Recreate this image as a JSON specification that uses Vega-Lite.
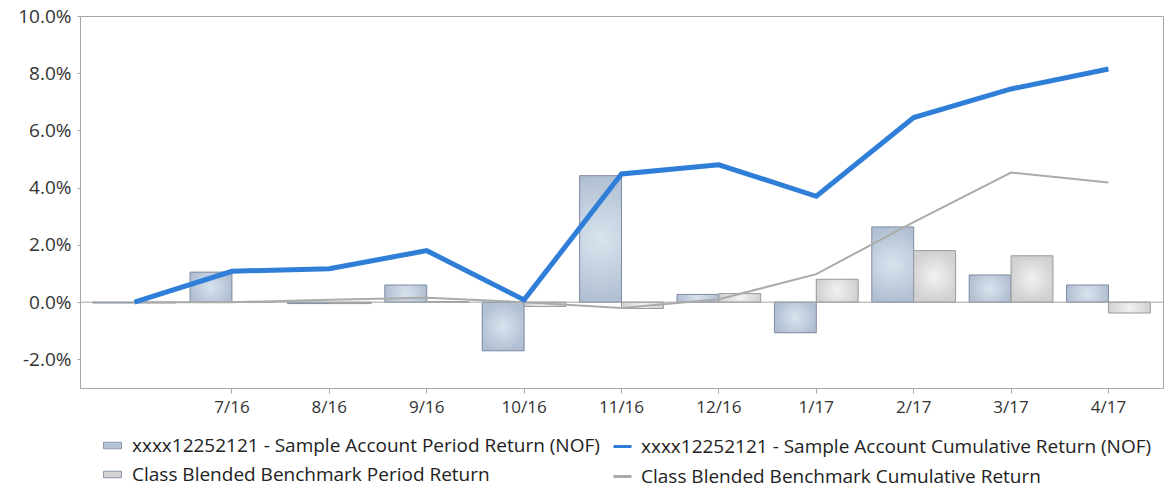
{
  "$schema": "https://vega.github.io/schema/vega-lite/v6.json",
  "width": 1083,
  "height": 372,
  "autosize": {"type": "none"},
  "padding": {"left": 80, "top": 16, "right": 7, "bottom": 101},
  "background": "white",
  "config": {
    "font": "Open Sans",
    "view": {"stroke": "#a6a6a6", "strokeWidth": 1},
    "axis": {"labelFont": "Open Sans", "labelColor": "#333333", "grid": false, "domain": false},
    "legend": {"labelFont": "Open Sans", "labelFontSize": 19, "labelColor": "#222222", "labelLimit": 700}
  },
  "datasets": {
    "period": [
      {"d": "6/16", "s": "xxxx12252121 - Sample Account Period Return (NOF)", "v": -0.0003},
      {"d": "7/16", "s": "xxxx12252121 - Sample Account Period Return (NOF)", "v": 0.0105},
      {"d": "8/16", "s": "xxxx12252121 - Sample Account Period Return (NOF)", "v": -0.0005},
      {"d": "9/16", "s": "xxxx12252121 - Sample Account Period Return (NOF)", "v": 0.006},
      {"d": "10/16", "s": "xxxx12252121 - Sample Account Period Return (NOF)", "v": -0.017},
      {"d": "11/16", "s": "xxxx12252121 - Sample Account Period Return (NOF)", "v": 0.0442},
      {"d": "12/16", "s": "xxxx12252121 - Sample Account Period Return (NOF)", "v": 0.0027},
      {"d": "1/17", "s": "xxxx12252121 - Sample Account Period Return (NOF)", "v": -0.0107},
      {"d": "2/17", "s": "xxxx12252121 - Sample Account Period Return (NOF)", "v": 0.0263},
      {"d": "3/17", "s": "xxxx12252121 - Sample Account Period Return (NOF)", "v": 0.0095},
      {"d": "4/17", "s": "xxxx12252121 - Sample Account Period Return (NOF)", "v": 0.006},
      {"d": "6/16", "s": "Class Blended Benchmark Period Return", "v": -0.0003},
      {"d": "7/16", "s": "Class Blended Benchmark Period Return", "v": 0.0001},
      {"d": "8/16", "s": "Class Blended Benchmark Period Return", "v": -0.0005},
      {"d": "9/16", "s": "Class Blended Benchmark Period Return", "v": 0.0002},
      {"d": "10/16", "s": "Class Blended Benchmark Period Return", "v": -0.0015},
      {"d": "11/16", "s": "Class Blended Benchmark Period Return", "v": -0.0022},
      {"d": "12/16", "s": "Class Blended Benchmark Period Return", "v": 0.003},
      {"d": "1/17", "s": "Class Blended Benchmark Period Return", "v": 0.008},
      {"d": "2/17", "s": "Class Blended Benchmark Period Return", "v": 0.018},
      {"d": "3/17", "s": "Class Blended Benchmark Period Return", "v": 0.0162},
      {"d": "4/17", "s": "Class Blended Benchmark Period Return", "v": -0.0038}
    ],
    "cumulative": [
      {"d": "6/16", "c": "xxxx12252121 - Sample Account Cumulative Return (NOF)", "v": 0.0},
      {"d": "7/16", "c": "xxxx12252121 - Sample Account Cumulative Return (NOF)", "v": 0.0108},
      {"d": "8/16", "c": "xxxx12252121 - Sample Account Cumulative Return (NOF)", "v": 0.0117},
      {"d": "9/16", "c": "xxxx12252121 - Sample Account Cumulative Return (NOF)", "v": 0.018},
      {"d": "10/16", "c": "xxxx12252121 - Sample Account Cumulative Return (NOF)", "v": 0.0008},
      {"d": "11/16", "c": "xxxx12252121 - Sample Account Cumulative Return (NOF)", "v": 0.0448},
      {"d": "12/16", "c": "xxxx12252121 - Sample Account Cumulative Return (NOF)", "v": 0.048},
      {"d": "1/17", "c": "xxxx12252121 - Sample Account Cumulative Return (NOF)", "v": 0.037},
      {"d": "2/17", "c": "xxxx12252121 - Sample Account Cumulative Return (NOF)", "v": 0.0645},
      {"d": "3/17", "c": "xxxx12252121 - Sample Account Cumulative Return (NOF)", "v": 0.0745},
      {"d": "4/17", "c": "xxxx12252121 - Sample Account Cumulative Return (NOF)", "v": 0.0815},
      {"d": "6/16", "c": "Class Blended Benchmark Cumulative Return", "v": 0.0},
      {"d": "7/16", "c": "Class Blended Benchmark Cumulative Return", "v": 0.0},
      {"d": "8/16", "c": "Class Blended Benchmark Cumulative Return", "v": 0.0008},
      {"d": "9/16", "c": "Class Blended Benchmark Cumulative Return", "v": 0.0015},
      {"d": "10/16", "c": "Class Blended Benchmark Cumulative Return", "v": 0.0},
      {"d": "11/16", "c": "Class Blended Benchmark Cumulative Return", "v": -0.002},
      {"d": "12/16", "c": "Class Blended Benchmark Cumulative Return", "v": 0.001},
      {"d": "1/17", "c": "Class Blended Benchmark Cumulative Return", "v": 0.0098},
      {"d": "2/17", "c": "Class Blended Benchmark Cumulative Return", "v": 0.028},
      {"d": "3/17", "c": "Class Blended Benchmark Cumulative Return", "v": 0.0453},
      {"d": "4/17", "c": "Class Blended Benchmark Cumulative Return", "v": 0.0418}
    ],
    "zero": [{"z": 0}]
  },
  "layer": [
    {
      "data": {"name": "period"},
      "mark": {"type": "bar", "strokeWidth": 0},
      "encoding": {
        "x": {
          "field": "d",
          "type": "nominal",
          "sort": ["6/16", "7/16", "8/16", "9/16", "10/16", "11/16", "12/16", "1/17", "2/17", "3/17", "4/17"],
          "scale": {"paddingInner": 0.14, "paddingOuter": 0.13},
          "axis": {
            "title": null,
            "values": ["7/16", "8/16", "9/16", "10/16", "11/16", "12/16", "1/17", "2/17", "3/17", "4/17"],
            "labelAngle": 0,
            "labelFontSize": 17,
            "labelPadding": 6,
            "tickSize": 5,
            "tickColor": "#a6a6a6",
            "domain": false
          }
        },
        "xOffset": {
          "field": "s",
          "type": "nominal",
          "scale": {"domain": ["xxxx12252121 - Sample Account Period Return (NOF)", "Class Blended Benchmark Period Return"]}
        },
        "y": {
          "field": "v",
          "type": "quantitative",
          "scale": {"domain": [-0.03, 0.1], "nice": false, "zero": false},
          "axis": {
            "title": null,
            "format": ".1%",
            "labelExpr": "replace(datum.label, '−', '-')",
            "values": [-0.02, 0, 0.02, 0.04, 0.06, 0.08, 0.1],
            "labelFontSize": 19,
            "labelPadding": 6,
            "tickSize": 3,
            "tickColor": "#a6a6a6"
          }
        },
        "fill": {
          "field": "s",
          "type": "nominal",
          "scale": {
            "domain": ["xxxx12252121 - Sample Account Period Return (NOF)", "Class Blended Benchmark Period Return"],
            "range": ["#b5c3d6", "#d3d3d3"]
          },
          "legend": {
            "title": null,
            "orient": "none",
            "legendX": 23,
            "legendY": 420,
            "direction": "vertical",
            "rowPadding": 9,
            "labelOffset": 10,
            "symbolType": "M-1,-0.36H1V0.36H-1Z",
            "symbolSize": 324,
            "symbolStrokeColor": "#8a96a8",
            "symbolStrokeWidth": 1,
            "symbolOpacity": 1
          }
        }
      }
    },
    {
      "data": {"name": "period"},
      "transform": [{"filter": "indexof(datum.s, 'Sample') >= 0"}],
      "mark": {
        "type": "bar",
        "strokeWidth": 1,
        "stroke": "#7f8ca0",
        "fill": {"gradient": "radial", "stops": [{"offset": 0, "color": "#d9e3ee"}, {"offset": 1, "color": "#b0bfd2"}]}
      },
      "encoding": {
        "x": {"field": "d", "type": "nominal", "sort": ["6/16", "7/16", "8/16", "9/16", "10/16", "11/16", "12/16", "1/17", "2/17", "3/17", "4/17"]},
        "xOffset": {"field": "s", "type": "nominal"},
        "y": {"field": "v", "type": "quantitative"}
      }
    },
    {
      "data": {"name": "period"},
      "transform": [{"filter": "indexof(datum.s, 'Sample') < 0"}],
      "mark": {
        "type": "bar",
        "strokeWidth": 1,
        "stroke": "#9a9a9a",
        "fill": {"gradient": "radial", "stops": [{"offset": 0, "color": "#f2f2f2"}, {"offset": 1, "color": "#d0d0d0"}]}
      },
      "encoding": {
        "x": {"field": "d", "type": "nominal", "sort": ["6/16", "7/16", "8/16", "9/16", "10/16", "11/16", "12/16", "1/17", "2/17", "3/17", "4/17"]},
        "xOffset": {"field": "s", "type": "nominal"},
        "y": {"field": "v", "type": "quantitative"}
      }
    },
    {
      "data": {"name": "zero"},
      "mark": {"type": "rule", "color": "#a6a6a6", "strokeWidth": 1},
      "encoding": {"y": {"field": "z", "type": "quantitative"}}
    },
    {
      "data": {"name": "cumulative"},
      "transform": [{"filter": "indexof(datum.c, 'Sample') < 0"}],
      "mark": {"type": "line", "strokeWidth": 2},
      "encoding": {
        "x": {"field": "d", "type": "nominal", "sort": ["6/16", "7/16", "8/16", "9/16", "10/16", "11/16", "12/16", "1/17", "2/17", "3/17", "4/17"]},
        "y": {"field": "v", "type": "quantitative"},
        "stroke": {"field": "c", "type": "nominal"}
      }
    },
    {
      "data": {"name": "cumulative"},
      "transform": [{"filter": "indexof(datum.c, 'Sample') >= 0"}],
      "mark": {"type": "line", "strokeWidth": 5},
      "encoding": {
        "x": {"field": "d", "type": "nominal", "sort": ["6/16", "7/16", "8/16", "9/16", "10/16", "11/16", "12/16", "1/17", "2/17", "3/17", "4/17"]},
        "y": {"field": "v", "type": "quantitative"},
        "stroke": {
          "field": "c",
          "type": "nominal",
          "scale": {
            "domain": ["xxxx12252121 - Sample Account Cumulative Return (NOF)", "Class Blended Benchmark Cumulative Return"],
            "range": ["#2f7ed8", "#ababab"]
          },
          "legend": {
            "title": null,
            "orient": "none",
            "legendX": 532,
            "legendY": 420,
            "direction": "vertical",
            "rowPadding": 9,
            "labelOffset": 8,
            "symbolType": "stroke",
            "symbolSize": 324,
            "symbolStrokeWidth": 3
          }
        }
      }
    }
  ]
}
